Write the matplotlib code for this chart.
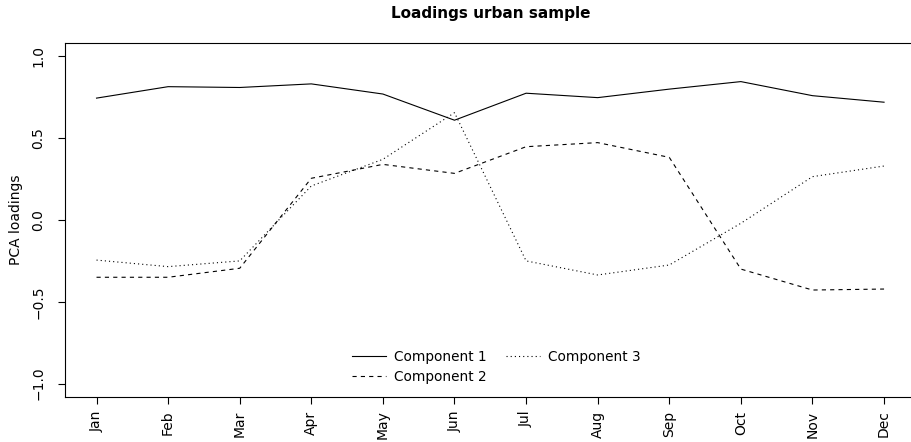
import matplotlib
matplotlib.use('Agg')
from matplotlib import pyplot as plt

# loadings of the first three principal components, by month
months = ['Jan', 'Feb', 'Mar', 'Apr', 'May', 'Jun',
          'Jul', 'Aug', 'Sep', 'Oct', 'Nov', 'Dec']
comp1 = [0.745, 0.815, 0.81, 0.832, 0.77, 0.61, 0.775, 0.748, 0.80, 0.846, 0.76, 0.72]
comp2 = [-0.35, -0.35, -0.295, 0.255, 0.34, 0.285, 0.448, 0.473, 0.383, -0.30, -0.428, -0.422]
comp3 = [-0.245, -0.285, -0.25, 0.208, 0.371, 0.656, -0.25, -0.336, -0.275, -0.02, 0.265, 0.33]

plt.rcParams['lines.scale_dashes'] = False
plt.rcParams['font.family'] = 'DejaVu Sans'

fig = plt.figure(figsize=(9.12, 4.42), dpi=100)
ax = fig.add_axes([0.0713, 0.1025, 0.9326, 0.7995])

x = list(range(1, len(months) + 1))
ax.plot(x, comp1, color='black', lw=0.8, label='Component 1')
ax.plot(x, comp2, color='black', lw=0.8, dashes=(3, 3), label='Component 2')
ax.plot(x, comp3, color='black', lw=0.8, dashes=(0.8, 2.2), label='Component 3')

ax.set_xlim(0.56, 12.44)
ax.set_ylim(-1.08, 1.08)
ax.set_xticks(x)
ax.set_xticklabels(months, rotation=90, fontsize=10)
ax.set_yticks([-1.0, -0.5, 0.0, 0.5, 1.0])
ax.set_yticklabels(['\u22121.0', '\u22120.5', '0.0', '0.5', '1.0'],
                   rotation=90, va='center', fontsize=10)
ax.tick_params(direction='out', length=5, width=0.8)
ax.tick_params(axis='y', pad=9)
ax.tick_params(axis='x', pad=5)
for s in ax.spines.values():
    s.set_linewidth(0.8)
ax.spines['right'].set_visible(False)

ax.set_ylabel('PCA loadings', fontsize=10, labelpad=6)
ax.set_title('Loadings urban sample', fontsize=11, fontweight='bold', pad=18)

ax.legend(loc='center', bbox_to_anchor=(0.507, 0.085), ncol=2, frameon=False,
          fontsize=9.8, handlelength=2.5, handletextpad=0.6, columnspacing=1.4,
          labelspacing=0.45)

fig.savefig('out.png', dpi=100)
